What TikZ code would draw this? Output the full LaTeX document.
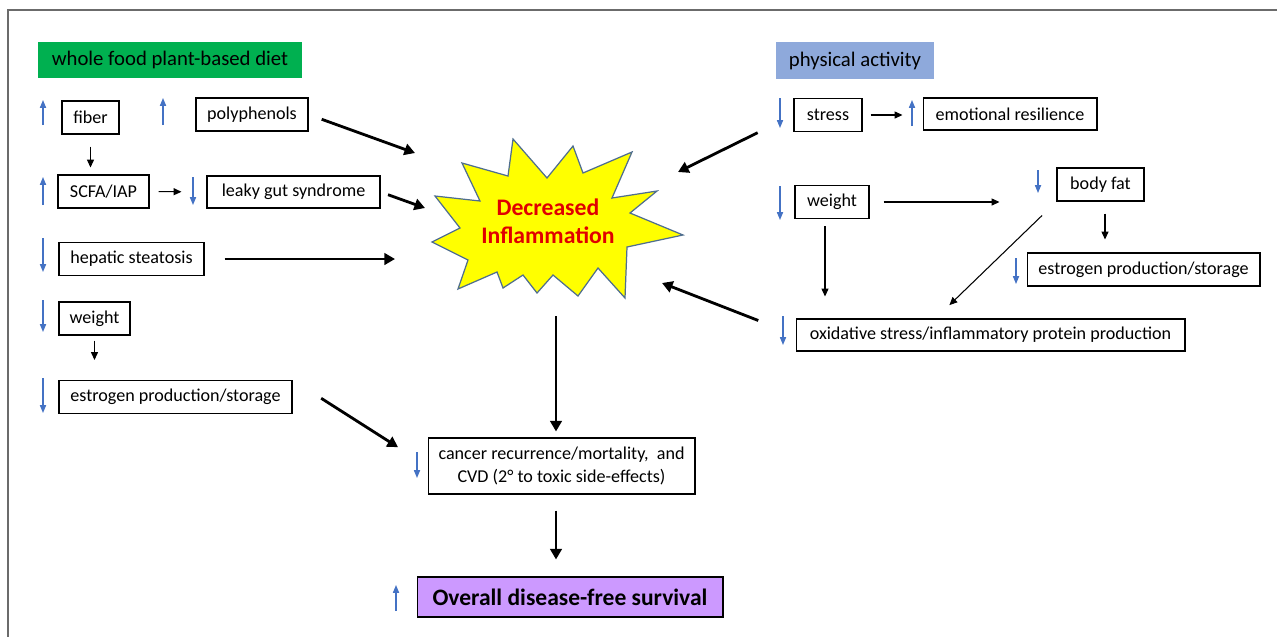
\documentclass[tikz,border=0pt]{standalone}
\usepackage{fontspec}
\setmainfont{Carlito}
\usetikzlibrary{arrows.meta, calc}
\definecolor{frame-gray}{HTML}{6B6B6B}
\definecolor{diet-green}{HTML}{00B050}
\definecolor{activity-blue}{HTML}{8EA9DB}
\definecolor{trend-blue}{HTML}{4472C4}
\definecolor{burst-yellow}{HTML}{FFFF00}
\definecolor{burst-edge}{HTML}{4F6E8F}
\definecolor{burst-red}{HTML}{E00000}
\definecolor{survival-violet}{HTML}{CC99FF}
\newcommand{\boxfont}{\fontsize{10.3}{12.6}\selectfont}
\tikzset{
  frame/.style={draw=frame-gray, line width=1.1pt},
  box/.style={draw=black, line width=0.6pt, fill=white, font=\boxfont,
    inner sep=0pt, minimum height=0.66cm, align=center},
  header/.style={inner sep=0pt, font=\fontsize{11.8}{14}\selectfont},
  bigarrow/.style={draw=black, line width=1.6pt, -{Triangle[length=6pt, width=6.5pt]}},
  smallarrow/.style={draw=black, line width=0.6pt, -{Triangle[length=4.5pt, width=4pt]}},
  % Blue trend markers beside the boxes
  incr/.style={draw=trend-blue, line width=0.7pt, -{Triangle[length=4.5pt, width=3.5pt]}},
  decr/.style={incr}
}

\begin{document}
\begin{tikzpicture}[x=0.02cm, y=-0.02cm]

  \useasboundingbox (0,0) rectangle (1277,637);
  \draw[frame] (1277,10) -- (8,10) -- (8,637);

  % ---- Headers -------------------------------------------------------------
  \node[header, fill=diet-green, minimum width=5.28cm, minimum height=0.72cm]
        (diet) at (170,60) {whole food plant-based diet};
  \node[header, fill=activity-blue, minimum width=3.16cm, minimum height=0.74cm]
        (activity) at (855,60.5) {physical activity};

  % ---- Central burst -------------------------------------------------------
  \filldraw[fill=burst-yellow, draw=burst-edge, line width=0.7pt]
    (513,139) -- (547,178) -- (573,146) -- (583,173) -- (632,152) -- (612,198)
    -- (657,191) -- (630,213) -- (683,235) -- (627,247) -- (625,298) -- (598,268)
    -- (578,296) -- (553,275) -- (537,293) -- (523,275) -- (503,288) -- (497,272)
    -- (458,289) -- (468,260) -- (432,242) -- (460,228) -- (435,196) -- (480,201)
    -- (462,163) -- (508,176) -- cycle;
  \node[align=center, text=burst-red, font=\fontsize{13.5}{16}\selectfont\bfseries]
        (burst) at (548,221) {Decreased\\Inflammation};
  \coordinate (burst-in-poly)  at (415,153);
  \coordinate (burst-in-leaky) at (425,208);
  \coordinate (burst-in-liver) at (395,259);
  \coordinate (burst-in-stress) at (678,172);
  \coordinate (burst-in-oxid)  at (662,283);
  \coordinate (burst-out)      at (556,316);

  % ---- Diet column ---------------------------------------------------------
  \node[box, minimum width=1.14cm] (fiber) at (90.5,117.5) {fiber};
  \node[box, minimum width=2.24cm] (poly) at (252,114.5) {polyphenols};
  \node[box, minimum width=1.82cm] (scfa) at (103.5,191.5) {SCFA/IAP};
  \node[box, minimum width=3.46cm, minimum height=0.64cm] (leaky) at (293.5,192) {leaky gut syndrome};
  \node[box, minimum width=2.9cm] (liver) at (131.5,259) {hepatic steatosis};
  \node[box, minimum width=1.42cm] (weightL) at (94.5,318.5) {weight};
  \node[box, minimum width=4.66cm] (estrogenL) at (175.5,397) {estrogen production/storage};

  \draw[smallarrow, shorten <=0.24cm, shorten >=0.14cm] (fiber.south) -- (fiber.south |- scfa.north);
  \draw[smallarrow, shorten <=0.18cm, shorten >=0.5cm] (scfa.east) -- (leaky.west);
  \draw[smallarrow, shorten <=0.1cm, shorten >=0.4cm] (weightL.south) -- (weightL.south |- estrogenL.north);

  % ---- Activity column -----------------------------------------------------
  \node[box, minimum width=1.36cm] (stress) at (828,115) {stress};
  \node[box, minimum width=3.48cm, minimum height=0.64cm] (resilience) at (1010,114) {emotional resilience};
  \node[box, minimum width=1.48cm] (weightR) at (832,202) {weight};
  \node[box, minimum width=1.74cm] (bodyfat) at (1100.5,184.5) {body fat};
  \node[box, minimum width=4.66cm] (estrogenR) at (1143.5,269.5) {estrogen production/storage};
  \node[box, minimum width=7.78cm, minimum height=0.64cm] (oxid) at (990.5,335)
        {oxidative stress/inflammatory protein production};

  \draw[smallarrow, shorten <=0.16cm, shorten >=0.4cm] (stress.east) -- (stress.east -| resilience.west);
  \draw[smallarrow, shorten <=0.28cm, shorten >=1.14cm] (weightR.east) -- (weightR.east -| bodyfat.west);
  \draw[smallarrow, shorten <=0.14cm, shorten >=0.44cm] (weightR.south -| 825,0) -- (oxid.north -| 825,0);
  \draw[smallarrow, shorten <=0.4cm, shorten >=0.4cm] (bodyfat.south west) -- (935,319);
  \draw[smallarrow, shorten <=0.24cm, shorten >=0.26cm] (bodyfat.south -| 1105,0) -- (estrogenR.north -| 1105,0);

  % ---- Outcomes ------------------------------------------------------------
  \node[box, minimum width=5.34cm, minimum height=1.12cm] (cancer) at (561.5,466)
        {cancer recurrence/mortality,\ \ and\\CVD (2\textdegree\ to toxic side-effects)};
  \node[box, fill=survival-violet, minimum width=6.12cm, minimum height=0.8cm,
        font=\fontsize{13.4}{16}\selectfont\bfseries] (survival) at (570,597)
        {Overall disease-free survival};

  % ---- Thick arrows into and out of the burst ------------------------------
  \draw[bigarrow, shorten <=0.28cm] (poly.east) -- (burst-in-poly);
  \draw[bigarrow, shorten <=0.16cm] (leaky.east) -- (burst-in-leaky);
  \draw[bigarrow, shorten <=0.4cm] (liver.east) -- (burst-in-liver);
  \draw[bigarrow, shorten <=0.8cm] (stress.west) -- (burst-in-stress);
  \draw[bigarrow, shorten <=0.8cm] (oxid.west) -- (burst-in-oxid);
  \draw[bigarrow, shorten <=0.68cm, shorten >=0.7cm] (estrogenL.north east) -- (cancer.west);
  \draw[bigarrow, shorten >=0.12cm] (burst-out) -- (burst-out |- cancer.north);
  \draw[bigarrow, shorten <=0.32cm, shorten >=0.34cm] (cancer.south -| burst-out) -- (survival.north -| burst-out);

  % ---- Trend markers -------------------------------------------------------
  \draw[incr] (43,125) -- (43,100);
  \draw[incr] (163,125) -- (163,98);
  \draw[incr] (43,205) -- (43,177);
  \draw[decr] (193,177) -- (193,205);
  \draw[decr] (43,238) -- (43,272);
  \draw[decr] (43,300) -- (43,332);
  \draw[decr] (43,378) -- (43,413);
  \draw[decr] (780,98) -- (780,128);
  \draw[incr] (912,126) -- (912,100);
  \draw[decr] (780,186) -- (780,220);
  \draw[decr] (1038,170) -- (1038,193);
  \draw[decr] (1016,258) -- (1016,284);
  \draw[decr] (783,316) -- (783,345);
  \draw[decr] (417,452) -- (417,478);
  \draw[incr] (396,611) -- (396,585);

\end{tikzpicture}
\end{document}
